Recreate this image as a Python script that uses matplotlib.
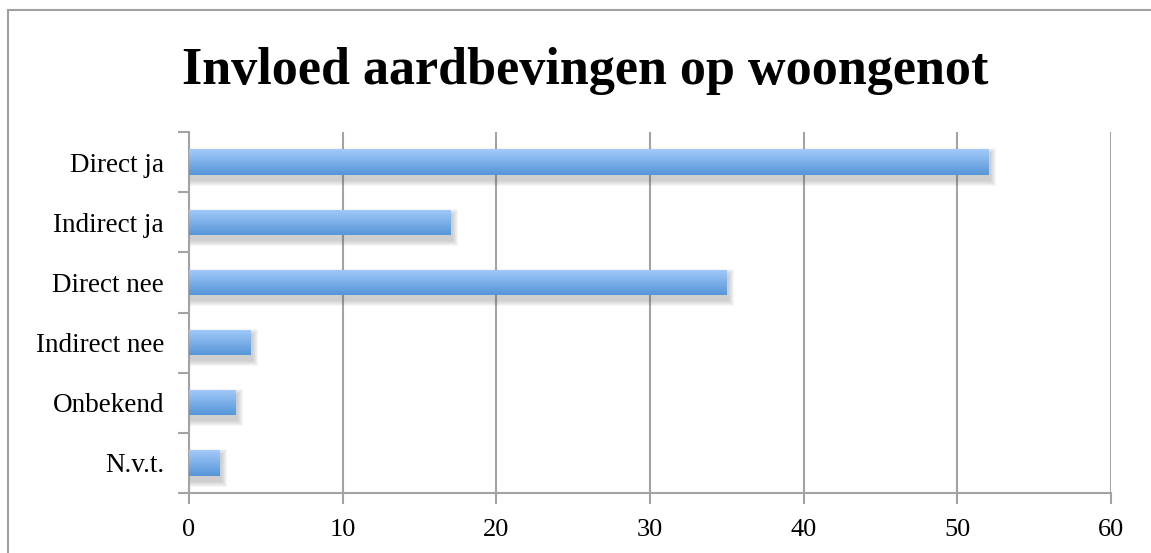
import numpy as np
import matplotlib
matplotlib.use("Agg")
import matplotlib.pyplot as plt
from matplotlib.patches import Rectangle

categories = ["Direct ja", "Indirect ja", "Direct nee", "Indirect nee", "Onbekend", "N.v.t."]
values = [52, 17, 35, 4, 3, 2]
xticks = [0, 10, 20, 30, 40, 50, 60]
title = "Invloed aardbevingen op woongenot"

plt.rcParams["font.family"] = ["Liberation Serif", "DejaVu Serif"]

fig = plt.figure(figsize=(11.51, 5.53), dpi=100)
ax = fig.add_axes([189 / 1151, 1 - 493 / 553, 922 / 1151, 361 / 553])

grid_c = "#a3a3a3"
ypos = np.arange(len(categories))
bar_h = 0.42

bars = ax.barh(ypos, values, height=bar_h, facecolor="none", edgecolor="none", zorder=3)

# vertical gradient: light on top, deeper blue at the bottom
grad = np.linspace(0, 1, 64).reshape(-1, 1)
top_c = np.array([164, 202, 250]) / 255
bot_c = np.array([86, 150, 216]) / 255
img = top_c[None, None, :] * (1 - grad[:, :, None]) + bot_c[None, None, :] * grad[:, :, None]

# soft drop shadow: stacked translucent rectangles growing outward
px_x = 60 / 922.0
px_y = 6 / 361.0
for b in bars:
    x0, y0 = b.get_x(), b.get_y()
    w, h = b.get_width(), b.get_height()
    for k in range(6, 0, -1):
        ax.add_patch(Rectangle((x0 + 1.5 * px_x - k * px_x, y0 + 5 * px_y - k * px_y),
                               w + 2 * k * px_x, h + 2 * k * px_y,
                               facecolor="#555555", alpha=0.05, edgecolor="none", zorder=2))
    im = ax.imshow(img, extent=(x0, x0 + w, y0 + h, y0), aspect="auto", zorder=3,
                   interpolation="bilinear")
    im.set_clip_path(b)

ax.set_xlim(0, 60)
ax.set_ylim(len(categories) - 0.5, -0.5)
ax.set_xticks(xticks)
ax.set_xticklabels([str(t) for t in xticks])

ax.set_yticks(np.arange(-0.5, len(categories), 1.0))
ax.set_yticklabels([])
ax.set_yticks(ypos, minor=True)
ax.set_yticklabels(categories, minor=True)
ax.tick_params(axis="y", which="major", length=8, width=1.5, color=grid_c)
ax.tick_params(axis="y", which="minor", length=0, pad=18, labelsize=19.5)
ax.tick_params(axis="x", which="major", length=8, width=1.5, color=grid_c, labelsize=19, pad=11)

for s in ["top", "right"]:
    ax.spines[s].set_visible(False)
for s in ["left", "bottom"]:
    ax.spines[s].set_color(grid_c)
    ax.spines[s].set_linewidth(1.5)

ax.grid(axis="x", color=grid_c, linewidth=1.5, zorder=0)
ax.set_axisbelow(True)

fig.text(0.508, 1 - 84 / 553, title, ha="center", va="baseline", fontsize=37.5, fontweight="bold")

border = Rectangle((8 / 1151, -0.1), 1.2, 1 - 10 / 553 + 0.1, transform=fig.transFigure,
                   facecolor="none", edgecolor="#a0a0a0", linewidth=1.5)
fig.add_artist(border)

fig.savefig("out.png", dpi=100)
